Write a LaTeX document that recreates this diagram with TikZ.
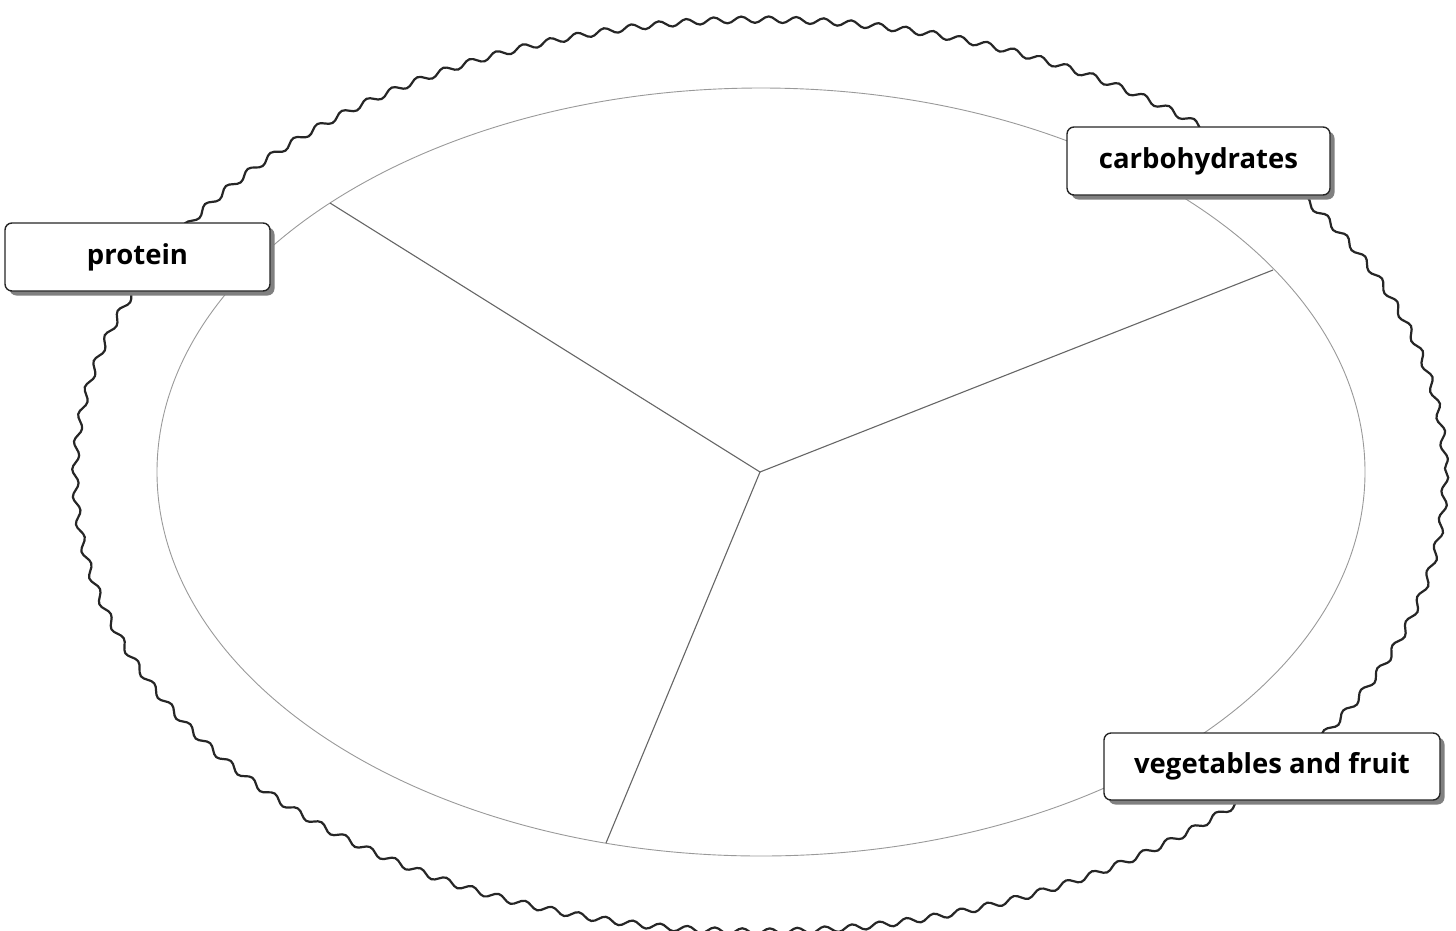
\documentclass[tikz,border=0pt]{standalone}
\usepackage{fontspec}
\setmainfont{Open Sans}
\usetikzlibrary{decorations.pathmorphing,shadows}
\begin{document}
\begin{tikzpicture}[x=1pt,y=-1pt,
  labelbox/.style={draw=black!85, line width=1.4pt, rounded corners=7pt, fill=white,
    minimum height=68pt, inner sep=0pt,
    font=\fontsize{27.5}{32}\selectfont\bfseries,
    drop shadow={shadow xshift=4.5pt, shadow yshift=-4.5pt, fill=black!50, opacity=1}},
  plate/.style={draw=black!40, line width=0.9pt},
  spoke/.style={draw=black!60, line width=1.1pt},
  rim/.style={draw=black!85, line width=2.2pt, decorate,
    decoration={snake, segment length=27.5pt, amplitude=3.2pt}}]
\useasboundingbox (0,0) rectangle (1456,930);
% outer wavy rim
\draw[rim] (760,469) ellipse [x radius=685, y radius=456];
% inner plate
\draw[plate] (761,472) ellipse [x radius=604, y radius=384];
% spokes
\coordinate (hub) at (760,472);
\coordinate (e1) at (330,203);
\coordinate (e2) at (1273,270);
\coordinate (e3) at (606,843);
\draw[spoke] (hub) -- (e1);
\draw[spoke] (hub) -- (e2);
\draw[spoke] (hub) -- (e3);
% labels
\node[labelbox, minimum width=265pt] (protein) at (137.5,257) {protein};
\node[labelbox, minimum width=263pt] (carbs) at (1198.5,161) {carbohydrates};
\node[labelbox, minimum width=336pt, minimum height=67pt] (veg) at (1272,766.5) {vegetables and fruit};
\end{tikzpicture}
\end{document}
